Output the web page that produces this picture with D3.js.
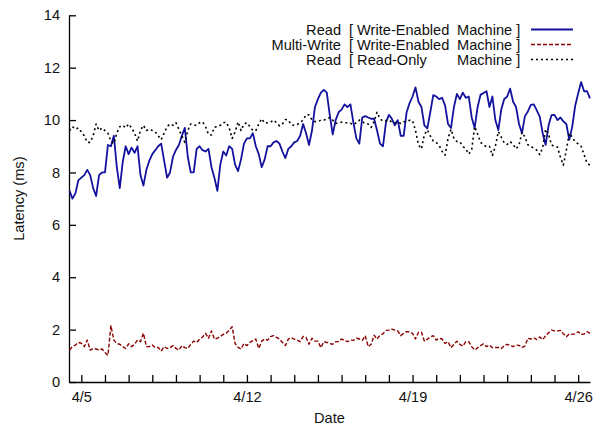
<!DOCTYPE html>
<html>
<head>
<meta charset="utf-8">
<script src="https://cdn.jsdelivr.net/npm/d3@7"></script>
<style>
  body { margin: 0; background: #fff; }
  svg { display: block; }
  text { font-family: "Liberation Sans", Arial, Helvetica, sans-serif; font-size: 14.6px; fill: #111; }
</style>
</head>
<body>
<svg id="chart" width="593" height="425"></svg>
<script>
// samples every 3 hours, starting 4/4 12:00
const startTime = Date.UTC(2009, 3, 4, 12);
const stepHours = 3;

const readWrite = [
  7.3, 7.0, 7.2, 7.7, 7.8, 7.9, 8.1, 7.9, 7.4, 7.1,
  7.9, 8.0, 8.0, 9.05, 9.0, 9.4, 8.2, 7.4, 8.4, 9.0,
  8.7, 8.95, 8.75, 9.0, 7.9, 7.5, 8.1, 8.45, 8.7, 8.85,
  9.0, 9.1, 8.45, 7.8, 8.0, 8.6, 8.86, 9.05, 9.4, 9.7,
  8.6, 8.0, 8.0, 8.9, 9.0, 8.85, 8.8, 8.9, 8.2, 7.8,
  7.3, 8.3, 8.8, 8.65, 9.0, 8.9, 8.3, 8.05, 8.5, 9.1,
  9.3, 9.3, 9.5, 9.0, 8.7, 8.2, 8.5, 9.0, 9.0, 9.15,
  9.2, 9.1, 8.8, 8.55, 8.9, 9.0, 9.15, 9.2, 9.4, 9.85,
  9.5, 9.05, 9.6, 10.5, 10.8, 11.05, 11.15, 11.05, 10.2, 9.45,
  10.0, 10.3, 10.4, 10.6, 10.5, 10.6, 9.9, 9.3, 9.1, 10.1,
  10.15, 10.1, 10.05, 10.05, 9.6, 9.1, 9.0, 9.9, 10.2, 10.05,
  9.8, 10.0, 9.4, 9.4, 10.3, 10.65, 10.9, 11.25, 10.7, 10.5,
  9.8, 9.68, 10.3, 10.95, 10.9, 10.8, 10.85, 10.55, 9.85, 9.7,
  10.5, 11.0, 10.8, 11.05, 10.85, 10.9, 10.1, 9.7, 10.5, 10.97,
  11.03, 11.1, 10.5, 10.9, 10.0, 9.62, 10.4, 10.8, 10.9, 11.2,
  10.7, 10.5, 9.85, 9.5, 10.15, 10.33, 10.58, 10.6, 10.37, 10.13,
  9.5, 9.05, 9.8, 10.19, 10.2, 10.0, 10.1, 9.95, 9.85, 9.25,
  9.75, 10.55, 11.02, 11.45, 11.1, 11.1, 10.83
];

const multiWrite = [
  1.22, 1.35, 1.41, 1.51, 1.48, 1.35, 1.6, 1.22, 1.28, 1.26,
  1.22, 1.26, 1.13, 1.02, 2.15, 1.6, 1.47, 1.44, 1.35, 1.28,
  1.46, 1.35, 1.44, 1.6, 1.54, 1.86, 1.35, 1.35, 1.41, 1.31,
  1.32, 1.18, 1.35, 1.28, 1.31, 1.39, 1.28, 1.22, 1.39, 1.31,
  1.28, 1.44, 1.56, 1.51, 1.64, 1.72, 1.86, 1.67, 1.95, 1.64,
  1.67, 1.74, 1.82, 1.86, 1.98, 2.11, 1.47, 1.32, 1.26, 1.47,
  1.39, 1.51, 1.58, 1.64, 1.28, 1.56, 1.64, 1.6, 1.73, 1.77,
  1.7, 1.64, 1.51, 1.39, 1.64, 1.69, 1.64, 1.6, 1.54, 1.74,
  1.7, 1.44, 1.67, 1.56, 1.56, 1.31, 1.54, 1.51, 1.47, 1.44,
  1.54, 1.54, 1.64, 1.59, 1.54, 1.6, 1.59, 1.67, 1.64, 1.59,
  1.77, 1.35, 1.44, 1.79, 1.64, 1.79, 1.84, 1.97, 1.98, 2.02,
  1.98, 1.95, 1.77, 1.86, 1.92, 1.92, 1.86, 1.64, 1.9, 1.9,
  1.56, 1.63, 1.72, 1.77, 1.6, 1.67, 1.64, 1.47, 1.54, 1.31,
  1.44, 1.56, 1.44, 1.37, 1.54, 1.54, 1.35, 1.22, 1.31, 1.39,
  1.46, 1.35, 1.41, 1.31, 1.32, 1.32, 1.28, 1.39, 1.44, 1.39,
  1.35, 1.41, 1.4, 1.32, 1.37, 1.67, 1.64, 1.69, 1.62, 1.72,
  1.62, 1.77, 1.88, 1.98, 1.95, 1.95, 1.97, 1.84, 1.73, 1.84,
  1.82, 1.84, 1.92, 1.82, 1.83, 1.92, 1.86
];

const readOnly = [
  9.6, 9.75, 9.65, 9.7, 9.55, 9.4, 9.15, 9.15, 9.4, 9.85,
  9.6, 9.7, 9.6, 9.5, 9.2, 9.1, 9.5, 9.75, 9.8, 9.7,
  9.85, 9.7, 9.5, 9.2, 9.6, 9.8, 9.6, 9.65, 9.6, 9.55,
  9.4, 9.25, 9.5, 9.75, 9.85, 9.8, 9.9, 9.65, 9.4, 9.15,
  9.6, 9.85, 9.8, 9.8, 9.9, 9.93, 9.75, 9.45, 9.43, 9.73,
  9.75, 9.8, 9.9, 9.92, 9.7, 9.3, 9.55, 9.93, 9.6, 9.85,
  9.9, 9.75, 9.6, 9.6, 9.85, 10.05, 9.88, 9.9, 9.92, 10.0,
  9.9, 9.78, 9.85, 10.02, 10.0, 9.82, 9.8, 9.83, 9.9, 10.0,
  10.2, 10.2, 10.0, 9.94, 9.94, 10.0, 10.0, 10.03, 10.1, 10.0,
  9.87, 9.9, 9.92, 9.9, 9.9, 9.88, 9.82, 9.9, 10.0, 9.94,
  9.86, 9.85, 9.72, 9.94, 10.3, 10.05, 9.96, 9.98, 10.0, 9.92,
  9.9, 9.92, 9.87, 9.93, 9.95, 9.99, 9.98, 9.6, 9.05, 8.9,
  9.45, 9.62, 9.4, 9.2, 9.15, 9.03, 8.8, 8.66, 9.3, 9.65,
  9.3, 9.18, 9.17, 9.0, 8.9, 8.7, 8.88, 9.75, 9.47, 9.15,
  9.05, 8.98, 9.0, 8.65, 9.0, 9.56, 9.35, 9.13, 9.07, 9.18,
  9.07, 8.9, 9.05, 9.53, 9.35, 9.06, 9.0, 8.92, 8.85, 8.68,
  8.95, 9.65, 9.45, 9.05, 8.99, 8.97, 8.58, 8.28, 8.85, 9.5,
  9.35, 9.16, 9.09, 9.0, 8.68, 8.35, 8.28
];

const yTicks = [0, 2, 4, 6, 8, 10, 12, 14];
const labelDays = ['4/5', '4/12', '4/19', '4/26'];

const series = [
  { label: 'Read', machine: '[ Write-Enabled', values: readWrite, color: '#12129e', width: 1.8, dash: null },
  { label: 'Multi-Write', machine: '[ Write-Enabled', values: multiWrite, color: '#8b0000', width: 1.4, dash: '4,2' },
  { label: 'Read', machine: '[ Read-Only', values: readOnly, color: '#000', width: 1.6, dash: '2,3' }
];

const svg = d3.select('#chart');
const margin = { top: 15.3, right: 3, bottom: 43, left: 69 };
const width = 593, height = 425;

const timeOf = i => new Date(startTime + i * stepHours * 3600e3);
const lastTime = timeOf(readWrite.length - 1);

const x = d3.scaleUtc()
  .domain([new Date(startTime - 30 * 60e3), lastTime])
  .range([margin.left, width - margin.right]);

const y = d3.scaleLinear()
  .domain([0, 14])
  .range([height - margin.bottom, margin.top]);

const fmt = d3.utcFormat('%-m/%-d');
const days = d3.utcDay.range(new Date(Date.UTC(2009, 3, 5)), new Date(Date.UTC(2009, 3, 27)));

const xAxis = svg.append('g')
  .attr('transform', `translate(0,${y(0)})`)
  .call(d3.axisBottom(x)
    .tickValues(days)
    .tickSizeInner(-7)
    .tickSizeOuter(0)
    .tickPadding(10)
    .tickFormat(d => labelDays.includes(fmt(d)) ? fmt(d) : ''));

const yAxis = svg.append('g')
  .attr('transform', `translate(${margin.left},0)`)
  .call(d3.axisLeft(y)
    .tickValues(yTicks)
    .tickSizeInner(-7)
    .tickSizeOuter(0)
    .tickPadding(9));

[xAxis, yAxis].forEach(g => {
  g.selectAll('path, line').attr('stroke', '#000').attr('stroke-width', 1.3);
  g.selectAll('text').attr('font-size', null).attr('font-family', null).attr('fill', '#111');
});

svg.append('text')
  .attr('x', (margin.left + width - margin.right) / 2)
  .attr('y', 423)
  .attr('text-anchor', 'middle')
  .text('Date');

svg.append('text')
  .attr('transform', `translate(24,${y(7)}) rotate(-90)`)
  .attr('text-anchor', 'middle')
  .text('Latency (ms)');

const line = d3.line()
  .x((d, i) => x(timeOf(i)))
  .y(d => y(d));

svg.append('g')
  .selectAll('path')
  .data(series)
  .join('path')
  .attr('d', d => line(d.values))
  .attr('fill', 'none')
  .attr('stroke', d => d.color)
  .attr('stroke-width', d => d.width)
  .attr('stroke-dasharray', d => d.dash)
  .attr('stroke-linejoin', 'round');

// key
const key = svg.append('g');
const rows = key.selectAll('g')
  .data(series)
  .join('g')
  .attr('transform', (d, i) => `translate(0,${34.5 + i * 15})`);

rows.append('text')
  .attr('x', 341)
  .attr('text-anchor', 'end')
  .text(d => d.label);

rows.append('text')
  .attr('x', 349)
  .text(d => d.machine);

rows.append('text')
  .attr('x', 457)
  .text('Machine ]');

rows.append('line')
  .attr('x1', 531)
  .attr('x2', 573)
  .attr('y1', -5)
  .attr('y2', -5)
  .attr('stroke', d => d.color)
  .attr('stroke-width', d => d.width)
  .attr('stroke-dasharray', d => d.dash);
</script>
</body>
</html>
